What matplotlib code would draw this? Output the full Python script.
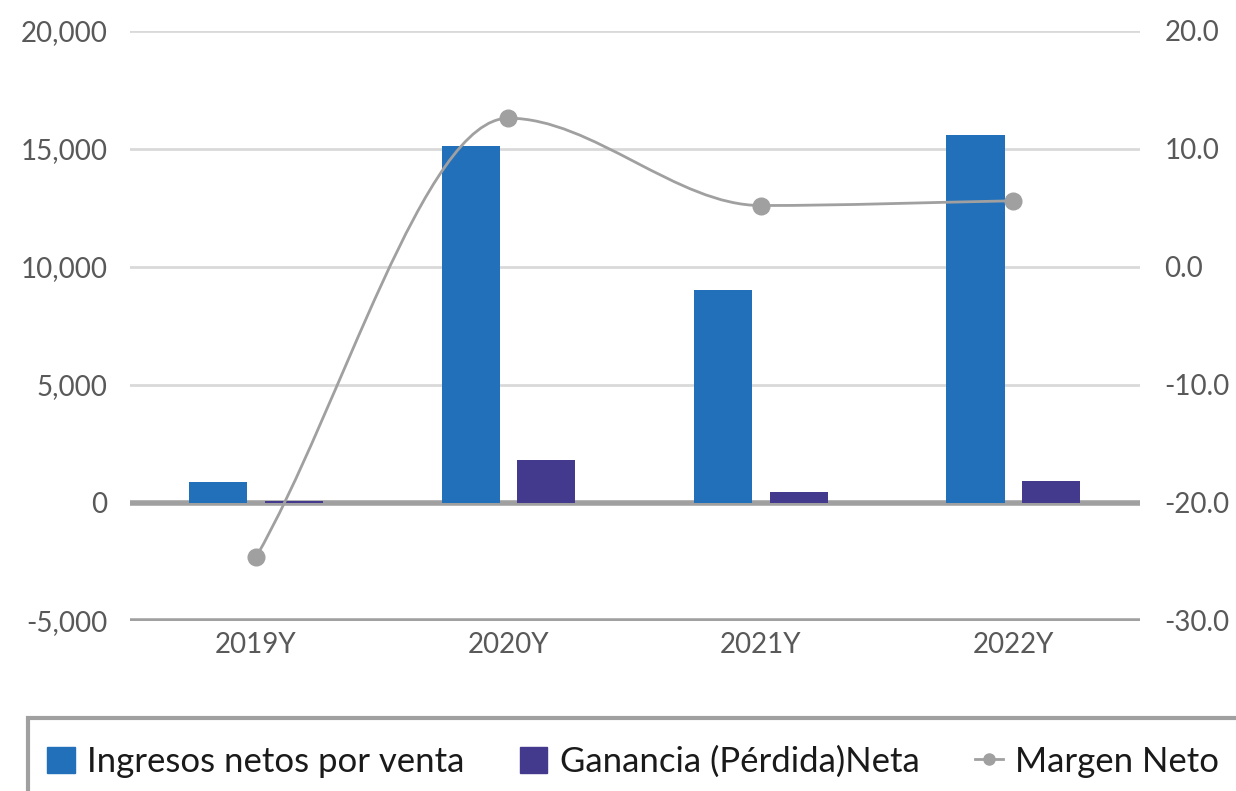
import matplotlib.pyplot as plt
import numpy as np
from matplotlib.path import Path
from matplotlib.patches import PathPatch, Rectangle
from matplotlib.lines import Line2D
from matplotlib.ticker import FuncFormatter

plt.rcParams['font.family'] = ['Lato', 'DejaVu Sans']

years = ["2019Y", "2020Y", "2021Y", "2022Y"]
ingresos = [890, 15130, 9030, 15590]
ganancia = [90, 1820, 460, 930]
margen = [-24.6, 12.6, 5.2, 5.6]

blue = "#2270BA"
purple = "#433A8E"
grey_line = "#A0A0A0"
text_color = "#595959"

fig = plt.figure(figsize=(12.36, 7.91), dpi=100)
ax = fig.add_axes([0.105, 0.215, 0.817, 0.746])
ax2 = ax.twinx()

x = np.arange(len(years))
width = 0.23
ax.bar(x - 0.15, ingresos, width=width, color=blue, zorder=3)
ax.bar(x + 0.15, ganancia, width=width, color=purple, zorder=3)

ax.set_xlim(-0.5, 3.5)
ax.set_ylim(-5000, 20000)
ax.set_yticks([-5000, 0, 5000, 10000, 15000, 20000])
ax.yaxis.set_major_formatter(FuncFormatter(lambda v, p: "{:,.0f}".format(v)))
for v in [5000, 10000, 15000, 20000]:
    ax.axhline(v, color="#D9D9D9", lw=2, zorder=1)
ax.axhline(0, color=grey_line, lw=4, zorder=2)
ax.axhline(-5000, color=grey_line, lw=4, zorder=2)

ax.set_xticks(x)
ax.set_xticklabels(years)

ax2.set_ylim(-30, 20)
ax2.set_yticks([-30, -20, -10, 0, 10, 20])
ax2.yaxis.set_major_formatter(FuncFormatter(lambda v, p: "{:.1f}".format(v)))

# smooth line: monotone cubic tangents drawn as bezier curves
xs = x.astype(float)
ys = np.array(margen, dtype=float)
d = np.diff(ys) / np.diff(xs)
m = np.zeros(len(ys))
m[0], m[-1] = d[0], d[-1]
for i in range(1, len(ys) - 1):
    if d[i - 1] * d[i] > 0:
        m[i] = 2.0 / (1.0 / d[i - 1] + 1.0 / d[i])
verts = [(xs[0], ys[0])]
codes = [Path.MOVETO]
for i in range(len(ys) - 1):
    h = xs[i + 1] - xs[i]
    verts += [(xs[i] + h / 3, ys[i] + m[i] * h / 3),
              (xs[i + 1] - h / 3, ys[i + 1] - m[i + 1] * h / 3),
              (xs[i + 1], ys[i + 1])]
    codes += [Path.CURVE4] * 3
ax2.add_patch(PathPatch(Path(verts, codes), fill=False, edgecolor=grey_line, lw=2, zorder=5))
ax2.plot(xs, ys, "o", color=grey_line, ms=12, zorder=6)

for a in (ax, ax2):
    for s in a.spines.values():
        s.set_visible(False)
    a.tick_params(length=0, labelsize=20, colors=text_color)
ax.tick_params(axis="y", pad=16)
ax.tick_params(axis="x", pad=8)
ax2.tick_params(axis="y", pad=18)

# legend box (cut off at bottom/right)
fig.patches.append(Rectangle((28 / 1236, -0.05), 1.1, (791 - 718) / 791 + 0.05,
                             transform=fig.transFigure, fill=False,
                             edgecolor=grey_line, lw=3))
handles = [
    Rectangle((0, 0), 1, 1, color=blue),
    Rectangle((0, 0), 1, 1, color=purple),
    Line2D([0], [0], color=grey_line, lw=2, marker="o", ms=8),
]
labels = ["Ingresos netos por venta", "Ganancia (Pérdida)Neta", "Margen Neto"]
fig.legend(handles, labels, loc="center", bbox_to_anchor=(0.512, 0.037), ncol=3,
           frameon=False, fontsize=25, labelcolor="#1a1a1a", handlelength=0.8,
           handleheight=0.8, handletextpad=0.35, columnspacing=1.6)

fig.savefig("out.png", dpi=100)
